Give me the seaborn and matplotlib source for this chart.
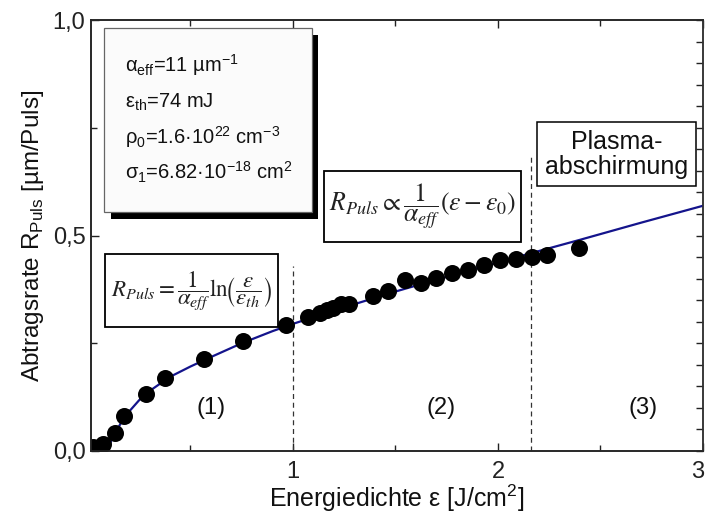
import numpy as np
import pandas as pd
import matplotlib
matplotlib.use("Agg")
import matplotlib.pyplot as plt
from matplotlib.patches import Rectangle
from matplotlib.transforms import ScaledTranslation
import seaborn as sns

# measured ablation rate per pulse vs. energy density
eps_meas = [0.024, 0.072, 0.132, 0.176, 0.283, 0.376, 0.567, 0.755, 0.966,
            1.075, 1.132, 1.164, 1.197, 1.234, 1.275, 1.389, 1.465, 1.546,
            1.623, 1.698, 1.777, 1.855, 1.932, 2.010, 2.088, 2.164, 2.240, 2.397]
rate_meas = [0.009, 0.016, 0.042, 0.081, 0.132, 0.169, 0.213, 0.255, 0.293,
             0.310, 0.321, 0.327, 0.332, 0.341, 0.340, 0.360, 0.372, 0.397,
             0.390, 0.401, 0.412, 0.420, 0.432, 0.442, 0.445, 0.451, 0.455, 0.470]

# model curve
eps_fit = [0.091, 0.11, 0.13, 0.16, 0.20, 0.25, 0.30, 0.40, 0.50, 0.60, 0.75,
           0.90, 1.00, 1.20, 1.50, 1.80, 2.10, 2.40, 2.70, 3.00]
rate_fit = [0.000, 0.020, 0.040, 0.064, 0.091, 0.118, 0.139, 0.172, 0.196,
            0.218, 0.250, 0.278, 0.295, 0.326, 0.370, 0.411, 0.451, 0.490,
            0.530, 0.569]

# regime boundaries
boundaries = [1.0, 2.16]
boundary_tops = [0.43, 0.685]
regime_labels = ["(1)", "(2)", "(3)"]
regime_x = [0.60, 1.72, 2.71]

x_ticks = [1, 2, 3]
x_ticklabels = ["1", "2", "3"]
y_ticks = [0.0, 0.5, 1.0]
y_ticklabels = ["0,0", "0,5", "1,0"]

sns.set_theme(style="ticks")
plt.rcParams["font.family"] = ["Liberation Sans", "DejaVu Sans"]

fig = plt.figure(figsize=(7.06, 5.15), dpi=100)
ax = fig.add_axes([91 / 706, 1 - 451 / 515, 612 / 706, 431 / 515])

meas = pd.DataFrame({"eps": eps_meas, "rate": rate_meas})
fit = pd.DataFrame({"eps": eps_fit, "rate": rate_fit})

for xb, yt in zip(boundaries, boundary_tops):
    ax.plot([xb, xb], [0, yt], color="#333333", lw=0.9, ls=(0, (4, 3)), zorder=1)

sns.lineplot(data=fit, x="eps", y="rate", ax=ax, color="#14148c", lw=1.6,
             sort=False, estimator=None, zorder=3)
sns.scatterplot(data=meas, x="eps", y="rate", ax=ax, color="black", s=150,
                edgecolor="black", linewidth=0, zorder=4)

ax.set_xlim(0.015, 3.0)
ax.set_ylim(0.0, 1.0)
ax.set_xticks(x_ticks)
ax.set_xticklabels(x_ticklabels)
ax.set_xticks([0.5, 1.5, 2.5], minor=True)
ax.set_yticks(y_ticks)
ax.set_yticklabels(y_ticklabels)
ax.set_yticks([0.25, 0.75], minor=True)

ax.tick_params(which="both", direction="in", top=True, right=False,
               labelsize=17, colors="#222222", width=1.0)
ax.tick_params(which="major", length=6)
ax.tick_params(which="minor", length=4)
ax.tick_params(axis="x", pad=7)
ax.tick_params(axis="y", pad=4)
for sp in ax.spines.values():
    sp.set_linewidth(1.1)
    sp.set_color("#333333")
    sp.set_visible(True)

# keep the last x label inside the frame edge
last = ax.get_xticklabels()[-1]
last.set_transform(last.get_transform()
                   + ScaledTranslation(-5 / 100, 0, fig.dpi_scale_trans))

# fine ticks along the right frame
axr = ax.twinx()
axr.set_ylim(0.0, 1.0)
axr.set_yticks(np.arange(0, 1.001, 0.05))
axr.tick_params(axis="y", direction="in", length=5, width=1.0,
                labelright=False, colors="#222222")
axr.spines["right"].set_linewidth(1.1)
axr.spines["right"].set_color("#333333")

ax.set_xlabel(r"Energiedichte ε [J/cm$^{\mathregular{2}}$]", fontsize=18,
              labelpad=0, color="#111111")
ax.set_ylabel(r"Abtragsrate R$_{\mathregular{Puls}}$ [µm/Puls]", fontsize=17.5,
              labelpad=5, color="#111111")

for lab, xr in zip(regime_labels, regime_x):
    ax.text(xr, 0.10, lab, fontsize=17, ha="center", va="center",
            color="#111111")

# parameter box with drop shadow
ax.add_patch(Rectangle((0.0327, 0.5383), 0.3382, 0.4269,
                       transform=ax.transAxes, fc="black", ec="none", zorder=6))
ax.add_patch(Rectangle((0.0212, 0.5545), 0.3399, 0.4269,
                       transform=ax.transAxes, fc="#fbfbfb", ec="#666666",
                       lw=0.9, zorder=7))
params = [
    r"α$_{\mathregular{eff}}$=11 µm$^{\mathregular{-1}}$",
    r"ε$_{\mathregular{th}}$=74 mJ",
    r"ρ$_{\mathregular{0}}$=1.6·10$^{\mathregular{22}}$ cm$^{\mathregular{-3}}$",
    r"σ$_{\mathregular{1}}$=6.82·10$^{\mathregular{-18}}$ cm$^{\mathregular{2}}$",
]
for i, t in enumerate(params):
    ax.text(0.0556, 0.8794 - i * 0.0835, t, transform=ax.transAxes,
            fontsize=14.5, ha="left", va="baseline", color="#111111", zorder=8)

# formula boxes
ax.add_patch(Rectangle((0.0229, 0.2877), 0.2827, 0.1694,
                       transform=ax.transAxes, fc="white", ec="black",
                       lw=1.3, zorder=6))
ax.text(0.164, 0.372,
        r"$R_{Puls}=\dfrac{1}{\alpha_{eff}}\mathrm{ln}\!\left(\dfrac{\varepsilon}{\varepsilon_{th}}\right)$",
        transform=ax.transAxes, fontsize=16.5, ha="center", va="center",
        math_fontfamily="stix", color="#222222", zorder=7)

ax.add_patch(Rectangle((0.3807, 0.4849), 0.3219, 0.1648,
                       transform=ax.transAxes, fc="white", ec="black",
                       lw=1.3, zorder=6))
ax.text(0.5417, 0.567,
        r"$R_{Puls}\propto\dfrac{1}{\alpha_{eff}}\left(\varepsilon-\varepsilon_{0}\right)$",
        transform=ax.transAxes, fontsize=18.5, ha="center", va="center",
        math_fontfamily="stix", color="#222222", zorder=7)

# plasma shielding box
ax.add_patch(Rectangle((0.7288, 0.6148), 0.2598, 0.1485,
                       transform=ax.transAxes, fc="white", ec="black",
                       lw=1.1, zorder=6))
ax.text(0.8587, 0.689, "Plasma-\nabschirmung", transform=ax.transAxes,
        fontsize=18, ha="center", va="center", linespacing=1.05,
        color="#111111", zorder=7)

fig.savefig("out.png", dpi=100)
